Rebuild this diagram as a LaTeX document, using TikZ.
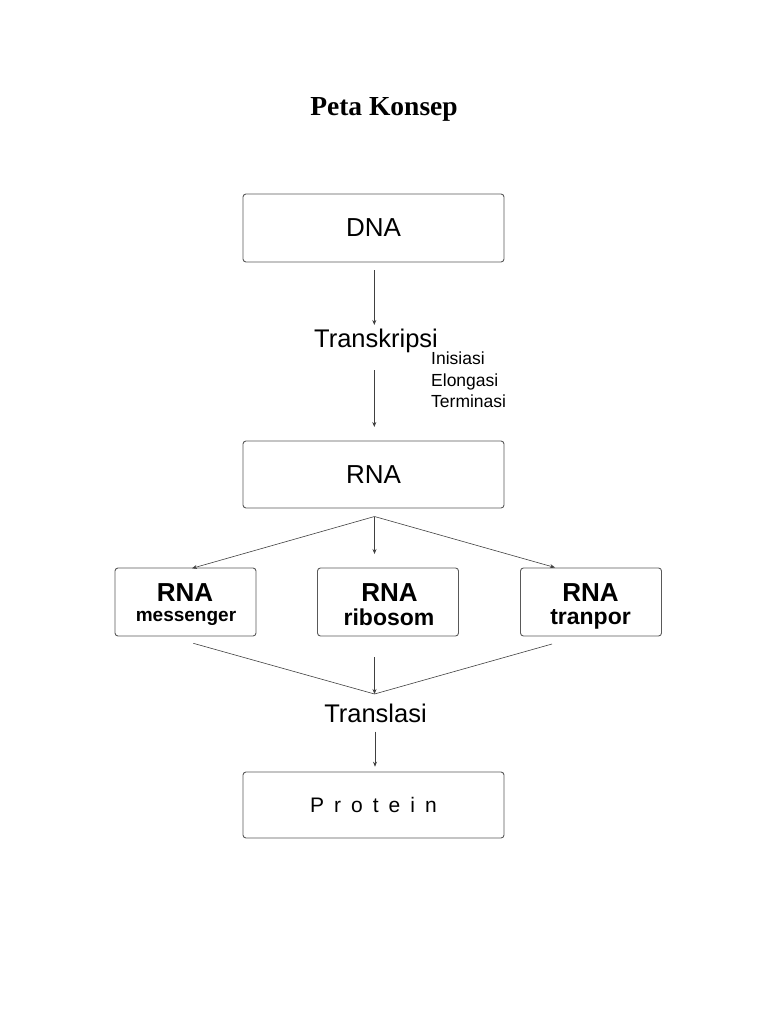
\documentclass[tikz,border=0pt]{standalone}
\usepackage{fontspec}
\setmainfont{Liberation Sans}
\newfontfamily\titlefont{Liberation Serif}
\usetikzlibrary{arrows.meta}
\begin{document}
\begin{tikzpicture}[x=1pt,y=-1pt,
  box/.style={draw=black!65, line width=0.9pt, rounded corners=3pt, inner sep=0pt},
  bigtext/.style={font=\fontsize{26}{30}\selectfont},
  conn/.style={draw=black!75, line width=0.6pt},
  arr/.style={conn, -{Stealth[length=5pt,width=4pt]}},
  lbl/.style={inner sep=0pt, anchor=base, font=\fontsize{25.5}{30}\selectfont},
  rnat/.style={inner sep=0pt, anchor=base, text height=19pt, text depth=0pt, font=\bfseries\fontsize{26}{30}\selectfont},
  subt/.style={inner sep=0pt, anchor=base, text height=16pt, text depth=5pt, font=\bfseries\fontsize{23}{27}\selectfont}]
\useasboundingbox (0,0) rectangle (768,1024);
\node[inner sep=0pt, anchor=base, font=\titlefont\bfseries\fontsize{27.5}{32}\selectfont] (title) at (384,116) {Peta Konsep};
% main boxes
\node[box, bigtext, minimum width=261pt, minimum height=68pt] (dna) at (373.5,228) {DNA};
\node[lbl] (trans) at (376,347) {Transkripsi};
\node[anchor=north west, inner sep=0pt, align=left, font=\fontsize{17.5}{21.3}\selectfont] (phase) at (431,352) {Inisiasi\\Elongasi\\Terminasi};
\node[box, bigtext, minimum width=261pt, minimum height=67pt] (rna) at (373.5,474.5) {RNA};
% RNA types
\node[box, minimum width=141pt, minimum height=68pt] (mrna) at (185.5,602) {};
\node[box, minimum width=141pt, minimum height=68pt] (rrna) at (388,602) {};
\node[box, minimum width=141pt, minimum height=68pt] (trna) at (591,602) {};
\node[rnat] (mrna1) at (185,601.5) {RNA};
\node[inner sep=0pt, anchor=base, text height=11pt, text depth=4pt, font=\bfseries\fontsize{19}{22}\selectfont] (mrna2) at (186,621) {messenger};
\node[rnat] (rrna1) at (389.5,601.5) {RNA};
\node[subt] (rrna2) at (389,625.5) {ribosom};
\node[rnat] (trna1) at (590.5,601.5) {RNA};
\node[subt] (trna2) at (590.5,624.5) {tranpor};
\node[lbl] (transl) at (375.5,722.7) {Translasi};
\node[box, minimum width=261pt, minimum height=66pt, font=\fontsize{21}{25}\selectfont] (prot) at (373.5,805)
  {P\hspace{10pt}r\hspace{10pt}o\hspace{10pt}t\hspace{10pt}e\hspace{10pt}i\hspace{10pt}n};
% coordinates for connector ends
\coordinate (a1) at (374.3,270);
\coordinate (a2) at (374.3,325);
\coordinate (b1) at (374.3,370);
\coordinate (b2) at (374.3,427);
\coordinate (s) at (374.5,516.5);
\coordinate (mt) at (192,568.3);
\coordinate (rt) at (374.5,554);
\coordinate (tt) at (555,567.5);
\coordinate (mb) at (193.3,643.3);
\coordinate (rb) at (374.5,657);
\coordinate (tb) at (552,644);
\coordinate (j) at (374.5,694);
\coordinate (c1) at (375,731.7);
\coordinate (c2) at (375,766.7);
\draw[arr] (a1) -- (a2);
\draw[arr] (b1) -- (b2);
\draw[arr] (s) -- (mt);
\draw[arr] (s) -- (rt);
\draw[arr] (s) -- (tt);
\draw[conn] (mb) -- (j);
\draw[arr] (rb) -- (j);
\draw[conn] (tb) -- (j);
\draw[arr] (c1) -- (c2);
\end{tikzpicture}
\end{document}
